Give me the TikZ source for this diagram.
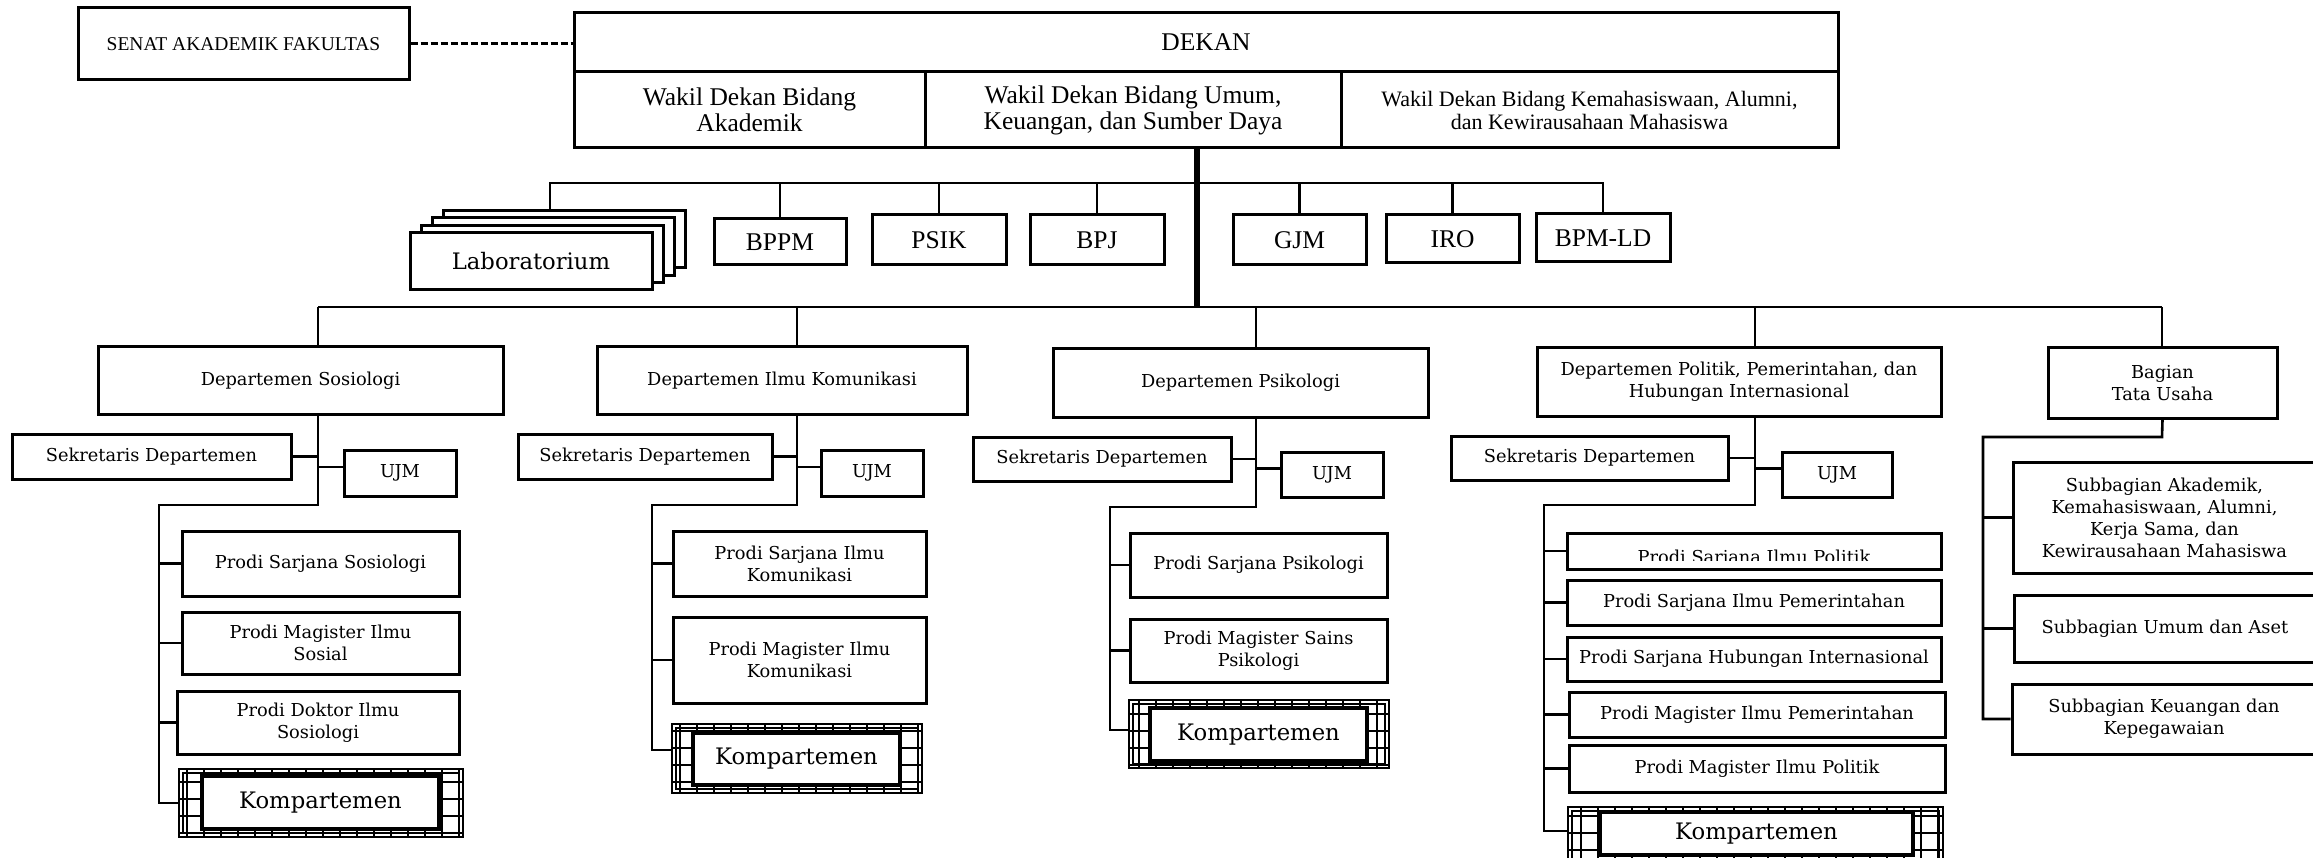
\documentclass[tikz,border=0pt]{standalone}
\usepackage{fontspec}
\setmainfont{DejaVu Serif}
\newfontfamily\tnr{Liberation Serif}
\usetikzlibrary{calc}
\newcommand{\lowfont}{\fontsize{17.8}{22}\selectfont}
\newcommand{\mybox}[7]{%
  \pgfmathsetmacro\bxw{#5-#3}%
  \pgfmathsetmacro\bxh{#6-#4}%
  \node[#1, minimum width=\bxw pt, minimum height=\bxh pt] (#2) at ({(#3+#5)/2},{(#4+#6)/2}) {#7};}
\newcommand{\komp}[9]{%
  \mybox{kout}{#1o}{#2}{#3}{#4}{#5}{}
  \begin{scope}[even odd rule]
    \clip (#2,#3) rectangle (#4,#5) (#6,#7) rectangle (#8,#9);
    \draw[line width=1.6pt, step=17pt] (#2,#3) grid (#4,#5);
  \end{scope}
  \draw[line width=1.6pt] ($(#2,#3)+(4,4)$) rectangle ($(#4,#5)+(-4,-4)$);
  \mybox{kin}{#1}{#6}{#7}{#8}{#9}{Kompartemen}}
\begin{document}
\begin{tikzpicture}[x=1pt,y=-1pt,
  bx/.style={draw, line width=3pt, fill=white, inner sep=0pt, align=center, font=\lowfont},
  topb/.style={bx, font=\tnr\fontsize{25.5}{26}\selectfont},
  kout/.style={draw, line width=2.8pt, fill=white, inner sep=0pt},
  kin/.style={bx, line width=3.2pt, font=\fontsize{22.7}{24}\selectfont},
  conn/.style={line width=2.6pt},
  lab/.style={bx, font=\fontsize{22.7}{24}\selectfont}]
\fill[white] (0,0) rectangle (2313,858);
\useasboundingbox (0,0) rectangle (2313,858);

% ---------- top ----------
\mybox{topb, font=\tnr\fontsize{19.5}{22}\selectfont}{senat}{78}{8}{409}{80}{SENAT AKADEMIK FAKULTAS}
\mybox{topb}{dekan}{574}{13}{1838}{72}{DEKAN}
\mybox{topb}{w1}{574}{72}{925}{148}{Wakil Dekan Bidang\\Akademik}
\mybox{topb}{w2}{925}{72}{1341}{148}{Wakil Dekan Bidang Umum,\\Keuangan, dan Sumber Daya}
\mybox{topb, font=\tnr\fontsize{22}{23}\selectfont}{w3}{1341}{72}{1838}{148}{Wakil Dekan Bidang Kemahasiswaan, Alumni,\\dan Kewirausahaan Mahasiswa}
\draw[line width=3pt, dash pattern=on 7pt off 3pt] (senat.east) -- (senat.east -| dekan.west);

% ---------- units ----------
\mybox{lab}{lab3}{443}{211}{685}{268}{}
\mybox{lab}{lab2}{432}{218}{674}{276}{}
\mybox{lab}{lab1}{421}{226}{663}{283}{}
\mybox{lab}{lab}{410}{233}{652}{290}{Laboratorium}
\mybox{topb}{bppm}{714}{219}{846}{265}{BPPM}
\mybox{topb}{psik}{872}{215}{1006}{265}{PSIK}
\mybox{topb}{bpj}{1030}{215}{1164}{265}{BPJ}
\mybox{topb}{gjm}{1233}{215}{1366}{265}{GJM}
\mybox{topb}{iro}{1386}{215}{1519}{263}{IRO}
\mybox{topb}{bpmld}{1536}{214}{1670}{262}{BPM-LD}

\coordinate (ub) at (550,183);
\coordinate (hub) at (1197,307);
\draw[conn] (ub |- lab3.north) -- (ub) -- (ub -| bpmld.north) -- (bpmld.north);
\foreach \n in {bppm,psik,bpj,gjm,iro} \draw[conn] (\n.north) -- (\n.north |- ub);
\draw[line width=6.5pt] (w2.south -| hub) -- (hub);

% ---------- departments ----------
\mybox{bx}{ds}{98}{347}{503}{414}{Departemen Sosiologi}
\mybox{bx}{dk}{597}{347}{967}{414}{Departemen Ilmu Komunikasi}
\mybox{bx}{dp}{1053}{349}{1428}{417}{Departemen Psikologi}
\mybox{bx}{dpol}{1537}{348}{1941}{416}{Departemen Politik, Pemerintahan, dan\\Hubungan Internasional}
\mybox{bx}{tu}{2048}{348}{2277}{418}{Bagian\\Tata Usaha}

\coordinate (t1) at (318,505);
\coordinate (t2) at (797,505);
\coordinate (t3) at (1256,507);
\coordinate (t4) at (1755,505);
\coordinate (t5) at (2162,437);
\draw[conn] (t1 |- hub) -- (t5 |- hub);
\foreach \t/\d in {t1/ds,t2/dk,t3/dp,t4/dpol,t5/tu} \draw[conn] (\t |- hub) -- (\t |- \d.north);

% ---------- Sosiologi ----------
\mybox{bx}{sek1}{12}{434}{291}{479}{Sekretaris Departemen}
\mybox{bx}{ujm1}{344}{450}{456}{496}{UJM}
\mybox{bx}{p11}{182}{531}{459}{596}{Prodi Sarjana Sosiologi}
\mybox{bx}{p12}{182}{612}{459}{674}{Prodi Magister Ilmu\\Sosial}
\mybox{bx}{p13}{177}{691}{459}{754}{}
\begin{scope}
  \clip (177,691) rectangle (459,743);
  \node[align=center, font=\lowfont] at (p13.center) {Prodi Doktor Ilmu\\Sosiologi};
\end{scope}
\komp{k1}{179}{769}{463}{837}{202}{776}{439}{829}
\coordinate (l1) at (159,505);
\coordinate (l1e) at (159,803);
\draw[conn] (t1 |- ds.south) -- (t1) -- (l1) -- (l1e) -- (l1e -| k1o.west);
\draw[conn] (sek1.east) -- (sek1.east -| t1);
\draw[conn] ([yshift=6pt]ujm1.west) -- ([yshift=6pt]ujm1.west -| t1);
\foreach \p in {p11,p12,p13} \draw[conn] (\p.west) -- (\p.west -| l1);

% ---------- Ilmu Komunikasi ----------
\mybox{bx}{sek2}{518}{434}{772}{479}{Sekretaris Departemen}
\mybox{bx}{ujm2}{821}{450}{923}{496}{UJM}
\mybox{bx}{p21}{673}{531}{926}{596}{Prodi Sarjana Ilmu\\Komunikasi}
\mybox{bx}{p22}{673}{617}{926}{703}{Prodi Magister Ilmu\\Komunikasi}
\komp{k2}{672}{724}{922}{793}{693}{733}{900}{785}
\coordinate (l2) at (652,505);
\coordinate (l2e) at (652,750);
\draw[conn] (t2 |- dk.south) -- (t2) -- (l2) -- (l2e) -- (l2e -| k2o.west);
\draw[conn] (sek2.east) -- (sek2.east -| t2);
\draw[conn] ([yshift=6pt]ujm2.west) -- ([yshift=6pt]ujm2.west -| t2);
\foreach \p in {p21,p22} \draw[conn] (\p.west) -- (\p.west -| l2);

% ---------- Psikologi ----------
\mybox{bx}{sek3}{973}{437}{1231}{481}{Sekretaris Departemen}
\mybox{bx}{ujm3}{1281}{452}{1383}{497}{UJM}
\mybox{bx}{p31}{1130}{533}{1387}{597}{Prodi Sarjana Psikologi}
\mybox{bx}{p32}{1130}{619}{1387}{682}{}
\begin{scope}
  \clip (1130,619) rectangle (1387,672);
  \node[align=center, font=\lowfont] at (p32.center) {Prodi Magister Sains\\Psikologi};
\end{scope}
\komp{k3}{1129}{700}{1389}{768}{1150}{708}{1367}{761}
\coordinate (l3) at (1110,507);
\coordinate (l3e) at (1110,730);
\draw[conn] (t3 |- dp.south) -- (t3) -- (l3) -- (l3e) -- (l3e -| k3o.west);
\draw[conn] (sek3.east) -- (sek3.east -| t3);
\draw[conn] ([yshift=6pt]ujm3.west) -- ([yshift=6pt]ujm3.west -| t3);
\foreach \p in {p31,p32} \draw[conn] (\p.west) -- (\p.west -| l3);

% ---------- Politik ----------
\mybox{bx}{sek4}{1451}{436}{1728}{480}{Sekretaris Departemen}
\mybox{bx}{ujm4}{1782}{452}{1892}{497}{UJM}
\mybox{bx}{p41}{1567}{533}{1941}{569}{}
\begin{scope}
  \clip (1567,533) rectangle (1941,560);
  \node[anchor=base, font=\lowfont] at (1754,563) {Prodi Sarjana Ilmu Politik};
\end{scope}
\mybox{bx}{p42}{1567}{580}{1941}{625}{Prodi Sarjana Ilmu Pemerintahan}
\mybox{bx}{p43}{1567}{637}{1941}{681}{Prodi Sarjana Hubungan Internasional}
\mybox{bx}{p44}{1569}{692}{1945}{737}{Prodi Magister Ilmu Pemerintahan}
\mybox{bx}{p45}{1569}{745}{1945}{792}{Prodi Magister Ilmu Politik}
\komp{k4}{1568}{807}{1943}{875}{1600}{812}{1913}{855}
\coordinate (l4) at (1544,505);
\coordinate (l4e) at (1544,831);
\draw[conn] (t4 |- dpol.south) -- (t4) -- (l4) -- (l4e) -- (l4e -| k4o.west);
\draw[conn] (sek4.east) -- (sek4.east -| t4);
\draw[conn] ([yshift=6pt]ujm4.west) -- ([yshift=6pt]ujm4.west -| t4);
\foreach \p in {p41,p42,p43,p44,p45} \draw[conn] (\p.west) -- (\p.west -| l4);

% ---------- Tata Usaha ----------
\mybox{bx}{s1}{2013}{462}{2316}{573}{Subbagian Akademik,\\Kemahasiswaan, Alumni,\\Kerja Sama, dan\\Kewirausahaan Mahasiswa}
\mybox{bx}{s2}{2014}{595}{2316}{662}{Subbagian Umum dan Aset}
\mybox{bx}{s3}{2012}{684}{2316}{754}{Subbagian Keuangan dan\\Kepegawaian}
\coordinate (l5) at (1983,437);
\draw[conn] (tu.south) -- (t5) -- (l5) -- (l5 |- s3.west) -- (s3.west);
\foreach \p in {s1,s2} \draw[conn] (\p.west) -- (\p.west -| l5);
\end{tikzpicture}
\end{document}
